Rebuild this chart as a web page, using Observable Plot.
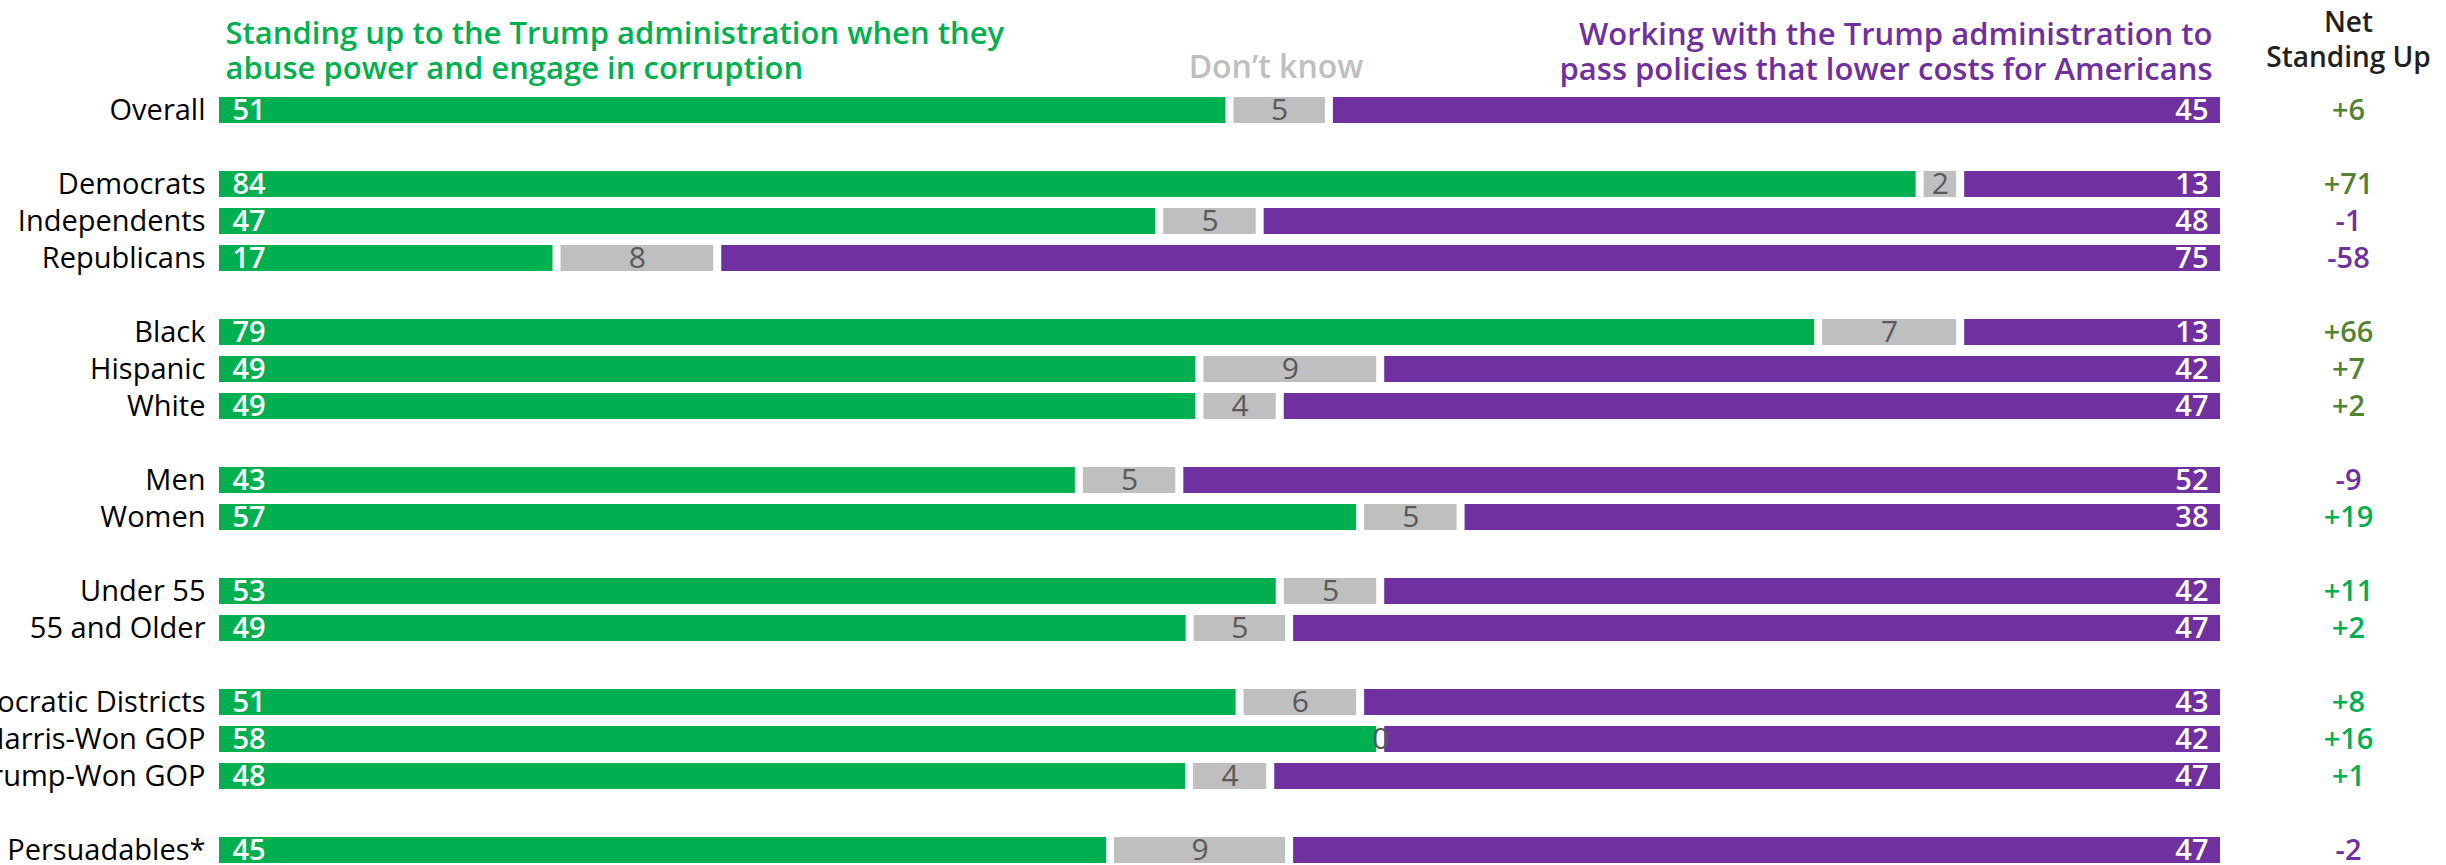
<!DOCTYPE html>
<html>
<head>
<meta charset="utf-8">
<script src="https://cdn.jsdelivr.net/npm/d3@7"></script>
<script src="https://cdn.jsdelivr.net/npm/@observablehq/plot@0.6"></script>
<style>
  html, body { margin: 0; padding: 0; background: #fff; }
  svg { display: block; }
</style>
</head>
<body>
<div id="chart"></div>
<script>
// ---- data ----
const groups = ["Overall", "Democrats", "Independents", "Republicans", "Black", "Hispanic", "White",
  "Men", "Women", "Under 55", "55 and Older", "Democratic Districts", "Harris-Won GOP", "Trump-Won GOP", "Persuadables*"];
const standingUp = [51, 84, 47, 17, 79, 49, 49, 43, 57, 53, 49, 51, 58, 48, 45];
const dontKnow   = [5, 2, 5, 8, 7, 9, 4, 5, 5, 5, 5, 6, 0, 4, 9];
const workingWith = [45, 13, 48, 75, 13, 42, 47, 52, 38, 42, 47, 43, 42, 47, 47];
const netStandingUp = [6, 71, -1, -58, 66, 7, 2, -9, 19, 11, 2, 8, 16, 1, -2];

const seriesNames = ["Standing up", "Don't know", "Working with"];
const headerStanding = "Standing up to the Trump administration when they\nabuse power and engage in corruption";
const headerWorking = "Working with the Trump administration to\npass policies that lower costs for Americans";
const headerDK = "Don\u2019t know";
const headerNet = "Net\nStanding Up";

// ---- layout (group breaks) ----
const layout = ["Overall", null, "Democrats", "Independents", "Republicans", null,
  "Black", "Hispanic", "White", null, "Men", "Women", null, "Under 55", "55 and Older", null,
  "Democratic Districts", "Harris-Won GOP", "Trump-Won GOP", null, "Persuadables*"];
let gapIdx = 0;
const yDomain = layout.map(d => d ?? `__gap${gapIdx++}`);

const GREEN = "#00B050", GRAY = "#BFBFBF", PURPLE = "#7030A0", DARKGREEN = "#548235";
const darkNetRows = new Set(["Overall", "Democrats", "Black", "Hispanic", "White"]);

const long = groups.flatMap((g, i) => [
  {label: g, series: seriesNames[0], value: standingUp[i]},
  {label: g, series: seriesNames[1], value: dontKnow[i]},
  {label: g, series: seriesNames[2], value: workingWith[i]}
]);
const rows = groups.map((g, i) => ({label: g, net: netStandingUp[i]}));
const fmtNet = v => (v > 0 ? "+" : "") + v;

const FONT = "'Open Sans', 'Noto Sans', sans-serif";
const stackOpts = {x: "value", y: "label", z: "series", offset: "normalize", order: null};

const chart = Plot.plot({
  width: 2446,
  height: 865,
  marginLeft: 215,
  marginRight: 222,
  marginTop: 0,
  marginBottom: 0,
  style: {fontFamily: FONT, fontSize: "29px", background: "#fff", color: "#000"},
  x: {domain: [0, 1], axis: null},
  y: {domain: yDomain, range: [84.9, 874.1], padding: 0.3, axis: null},
  color: {domain: seriesNames, range: [GREEN, GRAY, PURPLE]},
  marks: [
    Plot.axisY({ticks: groups, tickSize: 0, tickPadding: 10, fontSize: 29, fontWeight: 500, fill: "#000", label: null}),
    Plot.barX(long, Plot.stackX({...stackOpts, fill: "series", insetLeft: 4, insetRight: 4, filter: d => d.value > 0})),
    // values inside bars
    Plot.text(long, Plot.stackX1({...stackOpts,
      text: d => d.series === seriesNames[0] ? String(d.value) : null,
      textAnchor: "start", dx: 17, fill: "#fff", fontSize: 29, fontWeight: 600})),
    Plot.text(long, Plot.stackX({...stackOpts,
      text: d => d.series === seriesNames[1] ? String(d.value) : null,
      textAnchor: "middle", fill: "#595959", fontSize: 30, fontWeight: 400})),
    Plot.text(long, Plot.stackX2({...stackOpts,
      text: d => d.series === seriesNames[2] ? String(d.value) : null,
      textAnchor: "end", dx: -16, fill: "#fff", fontSize: 29, fontWeight: 600})),
    // net column
    Plot.text(rows, {filter: d => d.net > 0 && darkNetRows.has(d.label), y: "label", text: d => fmtNet(d.net),
      frameAnchor: "right", dx: 124, textAnchor: "middle", fill: DARKGREEN, fontSize: 29, fontWeight: 600}),
    Plot.text(rows, {filter: d => d.net > 0 && !darkNetRows.has(d.label), y: "label", text: d => fmtNet(d.net),
      frameAnchor: "right", dx: 124, textAnchor: "middle", fill: GREEN, fontSize: 29, fontWeight: 600}),
    Plot.text(rows, {filter: d => d.net <= 0, y: "label", text: d => fmtNet(d.net),
      frameAnchor: "right", dx: 124, textAnchor: "middle", fill: PURPLE, fontSize: 29, fontWeight: 600}),
    // headers
    Plot.text([headerStanding], {text: d => d, frameAnchor: "top-left", dx: 10, dy: 18, lineAnchor: "top",
      textAnchor: "start", lineHeight: 1.14, fill: GREEN, fontSize: 31, fontWeight: 600}),
    Plot.text([headerWorking], {text: d => d, frameAnchor: "top-right", dx: -12, dy: 19, lineAnchor: "top",
      textAnchor: "end", lineHeight: 1.14, fill: PURPLE, fontSize: 31, fontWeight: 600}),
    Plot.text([headerDK], {text: d => d, frameAnchor: "top", dx: 56, dy: 55, lineAnchor: "top",
      textAnchor: "middle", fill: GRAY, fontSize: 32, fontWeight: 600}),
    Plot.text([headerNet], {text: d => d, frameAnchor: "top-right", dx: 124, dy: 7, lineAnchor: "top",
      textAnchor: "middle", lineHeight: 1.25, fill: "#231F20", fontSize: 28, fontWeight: 600})
  ]
});
document.getElementById("chart").appendChild(chart);
</script>
</body>
</html>
